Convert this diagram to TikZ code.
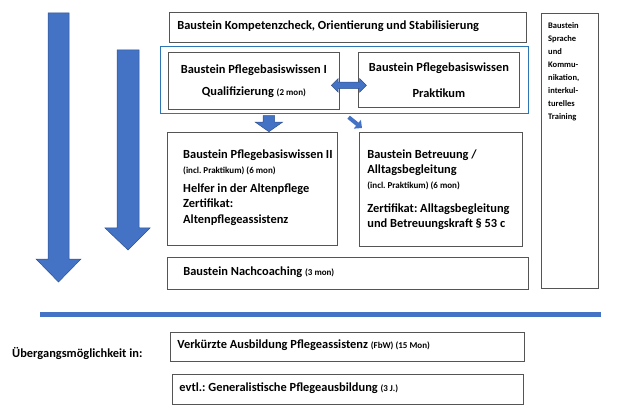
\documentclass[tikz,border=0pt]{standalone}
\usepackage{fontspec}
\setmainfont{Carlito}
\usetikzlibrary{positioning,calc,arrows.meta,shapes.arrows}

\definecolor{pfeilblau}{HTML}{4472C4}
\definecolor{pfeilrand}{HTML}{2F528F}
\definecolor{rahmenblau}{HTML}{2E75B6}
\definecolor{rahmen}{HTML}{555555}

\tikzset{
  schrift/.style={font=\bfseries\frenchspacing\fontsize{12.4}{15}\selectfont},
  box/.style={draw=rahmen, line width=0.8pt, anchor=north west, align=flush left,
    inner xsep=8pt, inner ysep=0pt, schrift},
  blockpfeil/.style={fill=pfeilblau, draw=pfeilrand, line width=0.5pt},
}
\newcommand{\klein}[1]{{\fontsize{9}{10}\selectfont #1}}

\begin{document}
\begin{tikzpicture}[x=1pt,y=-1pt]
  \useasboundingbox (0,0) rectangle (619,409);

  % grosse Pfeile links
  \filldraw[blockpfeil] (48,13) -- (69,13) -- (69,259) -- (81,259) -- (58.5,282) --
    (36,259) -- (48,259) -- cycle;
  \filldraw[blockpfeil] (117,50) -- (139,50) -- (139,228) -- (150,228) -- (128,250) --
    (105,228) -- (117,228) -- cycle;

  \node[box, text width=341pt, minimum height=30pt, text depth=5pt] (komp) at (169,12)
    {Baustein Kompetenzcheck, Orientierung und Stabilisierung};

  \node[draw=rahmenblau, line width=1.2pt, anchor=north west, minimum width=368pt,
    minimum height=67pt, inner sep=0pt] (gruppe) at (160,46) {};
  \node[box, align=flush center, inner xsep=2pt, text width=167pt, minimum height=57pt] (qual) at (168,52)
    {Baustein Pflegebasiswissen I\\[7pt]Qualifizierung \klein{(2 mon)}};
  \node[box, align=flush center, inner xsep=2pt, text width=157pt, minimum height=55pt] (prak) at (358,52)
    {Baustein Pflegebasiswissen\\[11pt]Praktikum};

  \node[box, minimum width=170pt, minimum height=113pt, inner sep=0pt] (pbw2) at (167,132) {};
  \node[anchor=west, inner sep=0pt, align=left, schrift] (pbw2text) at ([xshift=16pt,yshift=1pt]pbw2.west)
    {Baustein Pflegebasiswissen II\\ \klein{(incl. Praktikum) (6 mon)}\\[4pt]
     Helfer in der Altenpflege\\ Zertifikat:\\[1pt] Altenpflegeassistenz};
  \node[box, text width=147pt, minimum height=114pt] (betr) at (359,132)
    {Baustein Betreuung /\\ Alltagsbegleitung\\ \klein{(incl. Praktikum) (6 mon)}\\[9pt]
     Zertifikat: Alltagsbegleitung\\ und Betreuungskraft \S\ 53 c};

  \node[box, inner xsep=16pt, text width=329pt, minimum height=32pt, text depth=5pt] (nach) at (167,257)
    {Baustein Nachcoaching \klein{(3 mon)}};

  \node[box, text width=41pt, minimum height=275pt] (sprache) at (541,13) {};
  \node[anchor=north west, inner sep=0pt, align=left,
    font=\bfseries\fontsize{8.5}{13}\selectfont] (sprachetext) at (548,22)
    {Baustein\\ Sprache\\ und\\ Kommu-\\ nikation,\\ interkul-\\ turelles\\ Training};

  % Verbindungen
  \node[double arrow, blockpfeil, inner sep=3pt, double arrow head extend=3.5pt,
    minimum height=35pt] (doppel) at ($(qual.east)!0.5!(prak.west)+(0,5)$) {};
  \node[single arrow, blockpfeil, shape border rotate=270, inner sep=5.5pt,
    single arrow head extend=8pt, single arrow tip angle=110, minimum height=16pt,
    anchor=tip] (runter) at ([xshift=16.5pt]pbw2.north) {};
  \draw[pfeilblau, line width=4pt, -{Triangle[length=6pt,width=11pt]}]
    ([shift={(4,3)}]gruppe.south) -- ([shift={(3,-4)}]betr.north west);

  % Trennlinie
  \fill[pfeilblau] (40,312) rectangle (601,317);

  \node[anchor=west, inner sep=0pt, schrift] (ueber) at (12,354)
    {Übergangsmöglichkeit in:};
  \node[box, inner xsep=7pt, text width=340pt, minimum height=29pt, text depth=6pt] (verk) at (170,332)
    {Verkürzte Ausbildung Pflegeassistenz \klein{(FbW) (15 Mon)}};
  \node[box, inner xsep=7pt, text width=337pt, minimum height=30pt, text depth=5pt] (gen) at (172,374)
    {evtl.: Generalistische Pflegeausbildung \klein{(3 J.)}};
\end{tikzpicture}
\end{document}
